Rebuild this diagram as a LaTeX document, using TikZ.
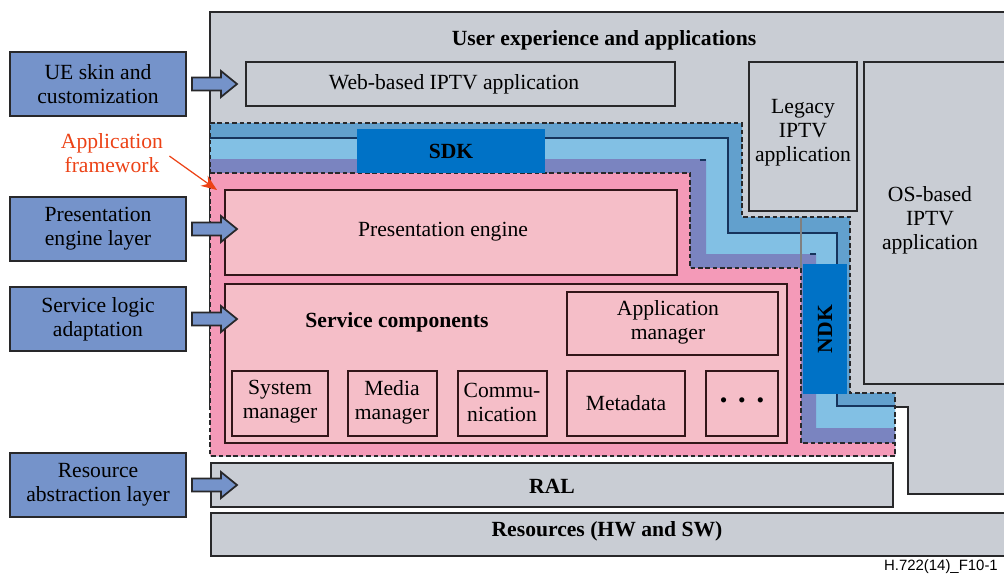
\documentclass[tikz,border=0pt]{standalone}
\usepackage{fontspec}
\setmainfont{Liberation Serif}
\newfontfamily\figsans{Liberation Sans}
\usetikzlibrary{arrows.meta}
\begin{document}
\begin{tikzpicture}[x=0.02cm, y=-0.02cm,
    font=\fontsize{12.3}{13.6}\selectfont,
    graybox/.style={fill=uegray, draw=edgegray, line width=1pt},
    pinkbox/.style={fill=boxpink, draw=edgebrown, line width=1pt},
    layerbox/.style={fill=layerblue, draw=edgegray, line width=1.2pt},
    fwdash/.style={draw=edgegray, line width=0.6pt, dash pattern=on 2.6pt off 1.6pt},
    txt/.style={align=center, inner sep=1pt},
    bold/.style={font=\fontsize{12.3}{13.6}\selectfont\bfseries}]
    \definecolor{uegray}{RGB}{201,205,212}
    \definecolor{edgegray}{RGB}{40,40,42}
    \definecolor{edgebrown}{RGB}{50,22,25}
    \definecolor{layerblue}{RGB}{117,147,202}
    \definecolor{bandmid}{RGB}{98,160,205}
    \definecolor{bandlight}{RGB}{130,192,228}
    \definecolor{bandlav}{RGB}{122,132,192}
    \definecolor{bandnavy}{RGB}{22,52,92}
    \definecolor{fwpink}{RGB}{244,154,184}
    \definecolor{boxpink}{RGB}{245,190,200}
    \definecolor{kitblue}{RGB}{0,114,198}
    \definecolor{fwred}{RGB}{236,66,22}

    \useasboundingbox (0,0) rectangle (1004,576);

    % user experience and applications
    \filldraw[graybox] (210,12) -- (1005,12) -- (1005,494) -- (908,494) -- (908,407) -- (210,407) -- cycle;
    \node[bold] (uea) at (604,40) {User experience and applications};
    \draw[graybox] (246,62) rectangle (675,106);
    \node (web) at (454,84) {Web-based IPTV application};
    \draw[graybox] (749,62) rectangle (857,211);
    \node[txt] (legacy) at (803,133) {Legacy\\IPTV\\application};
    \draw[graybox] (864,62) rectangle (1005,384);
    \node[txt] (osapp) at (930,220) {OS-based\\IPTV\\application};

    % SDK / NDK bands
    \fill[bandmid] (210,123) -- (742,123) -- (742,217) -- (850,217) -- (850,393) -- (895,393) -- (895,456) -- (210,456) -- cycle;
    \fill[bandlight] (210,138) -- (728,138) -- (728,233) -- (837,233) -- (837,406) -- (895,406) -- (895,456) -- (210,456) -- cycle;
    \draw[bandnavy, line width=1.2pt] (210,138) -- (728,138) -- (728,233) -- (837,233) -- (837,406) -- (895,406);
    \fill[bandlav] (210,159) -- (706,159) -- (706,254) -- (816,254) -- (816,428) -- (895,428) -- (895,456) -- (210,456) -- cycle;
    \draw[bandnavy, line width=1pt] (700,160) -- (706,160) (810,254) -- (816,254);
    \fill[fwpink] (210,173) -- (690,173) -- (690,268) -- (801,268) -- (801,443) -- (895,443) -- (895,456) -- (210,456) -- cycle;
    \draw[fwdash] (210,173) -- (690,173) -- (690,268) -- (801,268) -- (801,443) -- (895,443);
    \draw[gray, line width=0.8pt] (801,218) -- (801,268);
    \draw[fwdash] (210,123) -- (742,123) -- (742,217) -- (850,217) -- (850,393) -- (895,393) -- (895,456) -- (210,456) -- cycle;

    \fill[kitblue] (357,129) rectangle (545,173);
    \node[bold] (sdk) at (451,151) {SDK};
    \fill[kitblue] (803,264) rectangle (847,394);
    \node[bold, rotate=90] (ndk) at (825,329) {NDK};

    % application framework
    \draw[pinkbox] (225,190) rectangle (677,275);
    \node (pe) at (443,232) {Presentation engine};
    \draw[pinkbox] (225,284) rectangle (787,443);
    \node[bold] (sc) at (397,322) {Service components};
    \draw[pinkbox] (567,292) rectangle (778,355);
    \node[txt] (am) at (668,322) {Application\\manager};
    \foreach \xa/\xb in {232/328, 348/437, 458/547, 567/685, 706/778}
      \draw[pinkbox] (\xa,371) rectangle (\xb,436);
    \node[txt] (sm) at (280,402) {System\\manager};
    \node[txt] (mm) at (392,402) {Media\\manager};
    \node[txt] (comm) at (502,402) {Commu-\\nication};
    \node[txt] (meta) at (626,403) {Metadata};
    \node[txt] (more) at (742,403) {\textbullet\hspace{0.5em}\textbullet\hspace{0.5em}\textbullet};

    % resources
    \draw[graybox] (211,463) rectangle (893,507);
    \node[bold] (ral) at (552,486) {RAL};
    \draw[graybox] (211,513) rectangle (1005,556);
    \node[bold] (res) at (607,531) {Resources (HW and SW)};

    % layers on the left
    \foreach \ly in {84, 229, 319, 485} {
      \draw[layerbox] (10,\ly-32) rectangle (186,\ly+32);
      \draw[layerbox, line width=1pt] (192,\ly-6.5) -- (221,\ly-6.5) -- (221,\ly-13) -- (237,\ly)
        -- (221,\ly+13) -- (221,\ly+6.5) -- (192,\ly+6.5) -- cycle;
    }
    \node[txt] (ue) at (98,84) {UE skin and\\customization};
    \node[txt] (pel) at (98,229) {Presentation\\engine layer};
    \node[txt] (sla) at (98,319) {Service logic\\adaptation};
    \node[txt] (rsl) at (98,485) {Resource\\abstraction layer};

    \node[txt, text=fwred] (afw) at (112,153) {Application\\framework};
    \coordinate (afwtip) at (217,190);
    \draw[fwred, line width=0.7pt, -{Stealth[length=9pt, width=7pt]}, shorten <=3pt] (afw.east) -- (afwtip);

    \node[anchor=east, font=\figsans\fontsize{8.5}{9}\selectfont] (fig) at (1004,567) {H.722(14)\_F10-1};
  \end{tikzpicture}
\end{document}
